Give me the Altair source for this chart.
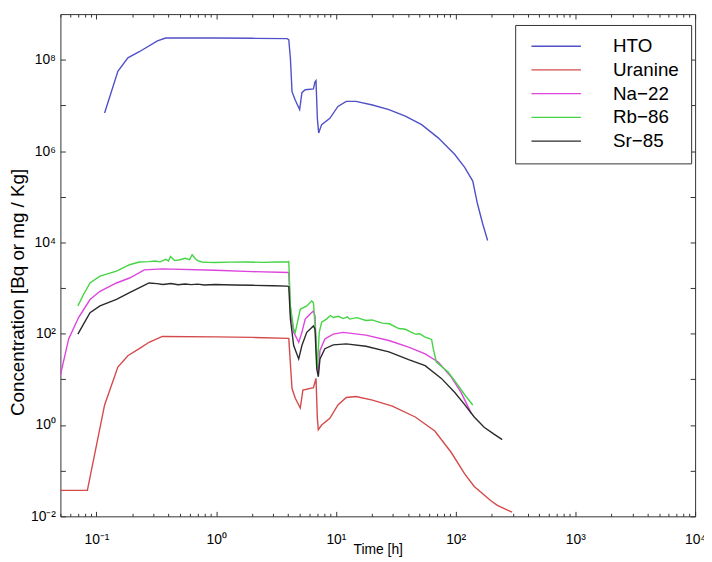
import altair as alt
import pandas as pd

SERIES = ["HTO", "Uranine", "Na−22", "Rb−86", "Sr−85"]
COLORS = ["#5050c8", "#d44a4a", "#dd44dd", "#44d444", "#2a2a2a"]

HTO_T = [0.117, 0.151, 0.183, 0.228, 0.323, 0.378, 0.6, 1.0, 2.0, 3.9, 4.04, 4.17, 4.3, 4.58, 4.98,
         5.2, 5.54, 6.49, 6.69, 6.82, 7.0, 7.18, 7.6, 8.9, 10.4, 12.2, 14.7, 20.2, 27.7, 38, 52, 71.5,
         98, 119, 139, 152, 168, 185]
HTO_C = [6.8e6, 5.6e7, 1.1e8, 1.5e8, 2.6e8, 3.0e8, 3.0e8, 3.0e8, 2.95e8, 2.9e8, 2.75e8, 1.05e8, 2.0e7,
         1.3e7, 8.1e6, 1.9e7, 2.2e7, 2.3e7, 3.3e7, 3.5e7, 5.2e6, 2.5e6, 3.8e6, 5.2e6, 9.5e6, 1.23e7,
         1.23e7, 1.02e7, 8.1e6, 5.8e6, 3.8e6, 1.95e6, 8.5e5, 4.4e5, 2.2e5, 7.1e4, 2.6e4, 1.1e4]

URA_T = [0.05, 0.084, 0.117, 0.151, 0.183, 0.228, 0.275, 0.355, 1.0, 2.0, 4.04, 4.3, 4.58, 5.04, 5.3,
         6.49, 6.82, 7.0, 7.13, 7.6, 8.9, 10.4, 12.2, 14.7, 20.2, 29.6, 46, 67, 92, 119, 143, 197, 223, 296]
URA_C = [0.037, 0.037, 2.75, 18.6, 33, 47, 65, 87, 85, 83, 79, 6.3, 3.85, 2.35, 5.8, 6.6, 10.5, 1.4,
         0.79, 1.0, 1.4, 2.75, 4.0, 4.2, 3.5, 2.6, 1.5, 0.74, 0.25, 0.085, 0.045, 0.022, 0.0174, 0.0123]

NA_T = [0.05, 0.0586, 0.0709, 0.0884, 0.107, 0.147, 0.189, 0.251, 0.355, 0.98, 2.0, 4.04, 4.17, 4.44,
        4.89, 5.2, 5.54, 6.09, 6.49, 6.69, 6.92, 7.13, 7.36, 8.09, 9.5, 11.5, 17.8, 27.7, 40.5, 55.6,
        71.5, 92, 111, 135]
NA_C = [12.3, 77, 226, 560, 850, 1290, 1660, 2500, 2630, 2450, 2290, 2190, 290, 107, 65, 107, 209, 270,
        316, 245, 24, 14.5, 43, 77, 98, 107, 93, 71, 51, 36, 24, 11.2, 5.2, 1.8]

RB_T = [0.07, 0.078, 0.0884, 0.107, 0.147, 0.189, 0.228, 0.275, 0.31, 0.34, 0.38, 0.40, 0.415, 0.45,
        0.5, 0.55, 0.6, 0.63, 0.67, 0.7, 0.76, 0.85, 0.98, 1.3, 1.83, 2.5, 3.2, 3.91, 4.04, 4.17, 4.44,
        4.58, 4.8, 5.04, 5.71, 6.28, 6.49, 6.82, 7.0, 7.26, 7.6, 8.35, 9.0, 9.5, 10.5, 11.5, 12.5, 13.0,
        15.0, 17.8, 20.0, 24.4, 28.0, 33.5, 38.0, 42.0, 46.0, 50.0, 55.0, 59.0, 63.0, 65, 69, 86.5, 105,
        119, 139]
RB_C = [407, 724, 1290, 1820, 2340, 3240, 3720, 3800, 3900, 3750, 4270, 3900, 4900, 4000, 4170, 4500,
        4200, 5370, 4400, 4000, 3720, 3650, 3630, 3700, 3720, 3650, 3720, 3720, 3800, 407, 126, 107, 190,
        343, 407, 519, 479, 77, 17, 107, 178, 209, 250, 226, 240, 215, 235, 209, 225, 195, 200, 170, 165,
        130, 125, 110, 98, 100, 85, 80, 75, 47, 24, 14.5, 7.4, 4.6, 2.75]

SR_T = [0.07, 0.078, 0.0884, 0.107, 0.147, 0.189, 0.243, 0.275, 0.32, 0.36, 0.42, 0.48, 0.55, 0.62,
        0.7, 0.8, 0.98, 1.4, 2.0, 3.0, 3.91, 4.04, 4.17, 4.44, 4.89, 5.2, 5.71, 6.49, 6.69, 6.92, 7.13,
        7.36, 8.09, 9.5, 12.2, 17.8, 27.7, 40.5, 55.6, 76, 98, 119, 143, 173, 209, 245]
SR_C = [98, 162, 288, 407, 562, 794, 1100, 1290, 1250, 1200, 1260, 1180, 1230, 1190, 1220, 1170, 1200,
        1170, 1150, 1120, 1100, 1070, 209, 55, 28, 55, 107, 148, 126, 17, 11.4, 28, 47, 57, 60, 53, 40,
        27, 20, 10.5, 5.2, 2.8, 1.5, 0.89, 0.63, 0.48]

X_MAJOR = [0.1, 1, 10, 100, 1000, 10000]
X_MINOR = [k * m for m in [0.01, 0.1, 1, 10, 100, 1000] for k in range(2, 10) if 0.05 <= k * m <= 1e4]
Y_MAJOR = [1e-2, 1e-1, 1, 10, 1e2, 1e3, 1e4, 1e5, 1e6, 1e7, 1e8]

rows = []
for name, ts, cs in zip(SERIES, [HTO_T, URA_T, NA_T, RB_T, SR_T], [HTO_C, URA_C, NA_C, RB_C, SR_C]):
    for i, (t, c) in enumerate(zip(ts, cs)):
        rows.append({"series": name, "t": t, "c": c, "order": i})
df = pd.DataFrame(rows)

SUP = {"-": "⁻", "0": "⁰", "1": "¹", "2": "²", "3": "³", "4": "⁴",
       "5": "⁵", "6": "⁶", "7": "⁷", "8": "⁸", "9": "⁹"}


def sup(n):
    return "10" + "".join(SUP[ch] for ch in str(n))


def label_expr(exps):
    e = "round(log(datum.value) / LN10)"
    expr = "''"
    for k in exps:
        expr = f"{e} == {k} ? '{sup(k)}' : ({expr})"
    return expr


FONT = "Liberation Sans"
FRAME = "#333333"
xs = alt.Scale(type="log", domain=[0.05, 1e4], nice=False)
ys = alt.Scale(type="log", domain=[0.01, 1e9], nice=False)
base = alt.Chart(df)

x_label_axis = alt.Axis(orient="bottom", values=X_MAJOR, ticks=False, domain=False, grid=False,
                        labelExpr=label_expr(range(-1, 5)), labelFontSize=14, labelPadding=16,
                        labelFlush=False, labelOverlap=False, labelBound=False, labelFont=FONT,
                        labelColor="black", title="Time [h]", titleFontSize=14,
                        titleFontWeight="normal", titleY=34, titleBaseline="middle",
                        titleFont=FONT, titleColor="black")
y_label_axis = alt.Axis(orient="left", values=Y_MAJOR, ticks=False, domain=False, grid=False,
                        labelExpr=label_expr([-2, 0, 2, 4, 6, 8]), labelFontSize=14, labelPadding=5,
                        labelFlush=False, labelOverlap=False, labelBound=False, labelFont=FONT,
                        labelColor="black", title="Concentration [Bq or mg / Kg]", titleFontSize=19,
                        titleFontWeight="normal", titlePadding=3, titleY=281, titleFont=FONT,
                        titleColor="black")

lines = base.mark_line(strokeWidth=1.4, clip=True).encode(
    x=alt.X("t:Q", scale=xs, axis=x_label_axis),
    y=alt.Y("c:Q", scale=ys, axis=y_label_axis),
    color=alt.Color("series:N", scale=alt.Scale(domain=SERIES, range=COLORS),
                    legend=alt.Legend(orient="none", legendX=460, legendY=11, title=None,
                                      direction="vertical", symbolType="M-1,0H9", symbolSize=100,
                                      symbolStrokeWidth=1.3, labelFontSize=19, labelFont=FONT,
                                      labelColor="black", labelOffset=68, rowPadding=4, padding=12,
                                      strokeColor=FRAME, fillColor="white", labelLimit=300)),
    order="order:Q",
)


def tick_axis(orient, values, size):
    return alt.Axis(orient=orient, values=values, labels=False, domain=False, grid=False, ticks=True,
                    tickSize=size, offset=-size, tickColor=FRAME, tickWidth=1, title=None)


def tick_layer(xaxis, yaxis):
    return base.mark_point(opacity=0).encode(
        x=alt.X("t:Q", scale=xs, axis=xaxis),
        y=alt.Y("c:Q", scale=ys, axis=yaxis),
    )


layers = [
    lines,
    tick_layer(tick_axis("bottom", X_MAJOR, 5), tick_axis("left", Y_MAJOR, 5)),
    tick_layer(tick_axis("top", X_MAJOR, 5), tick_axis("right", Y_MAJOR, 5)),
    tick_layer(tick_axis("bottom", X_MINOR, 3), None),
    tick_layer(tick_axis("top", X_MINOR, 3), None),
]

chart = alt.layer(*layers).resolve_axis(x="independent", y="independent").properties(
    width=642, height=508,
    autosize=alt.AutoSizeParams(type="none"),
    padding={"left": 53, "top": 3, "right": 9, "bottom": 42},
).configure(font=FONT, background="white").configure_view(stroke=FRAME, strokeWidth=1)

chart.save("out.html", embed_options={"renderer": "svg", "actions": False})
